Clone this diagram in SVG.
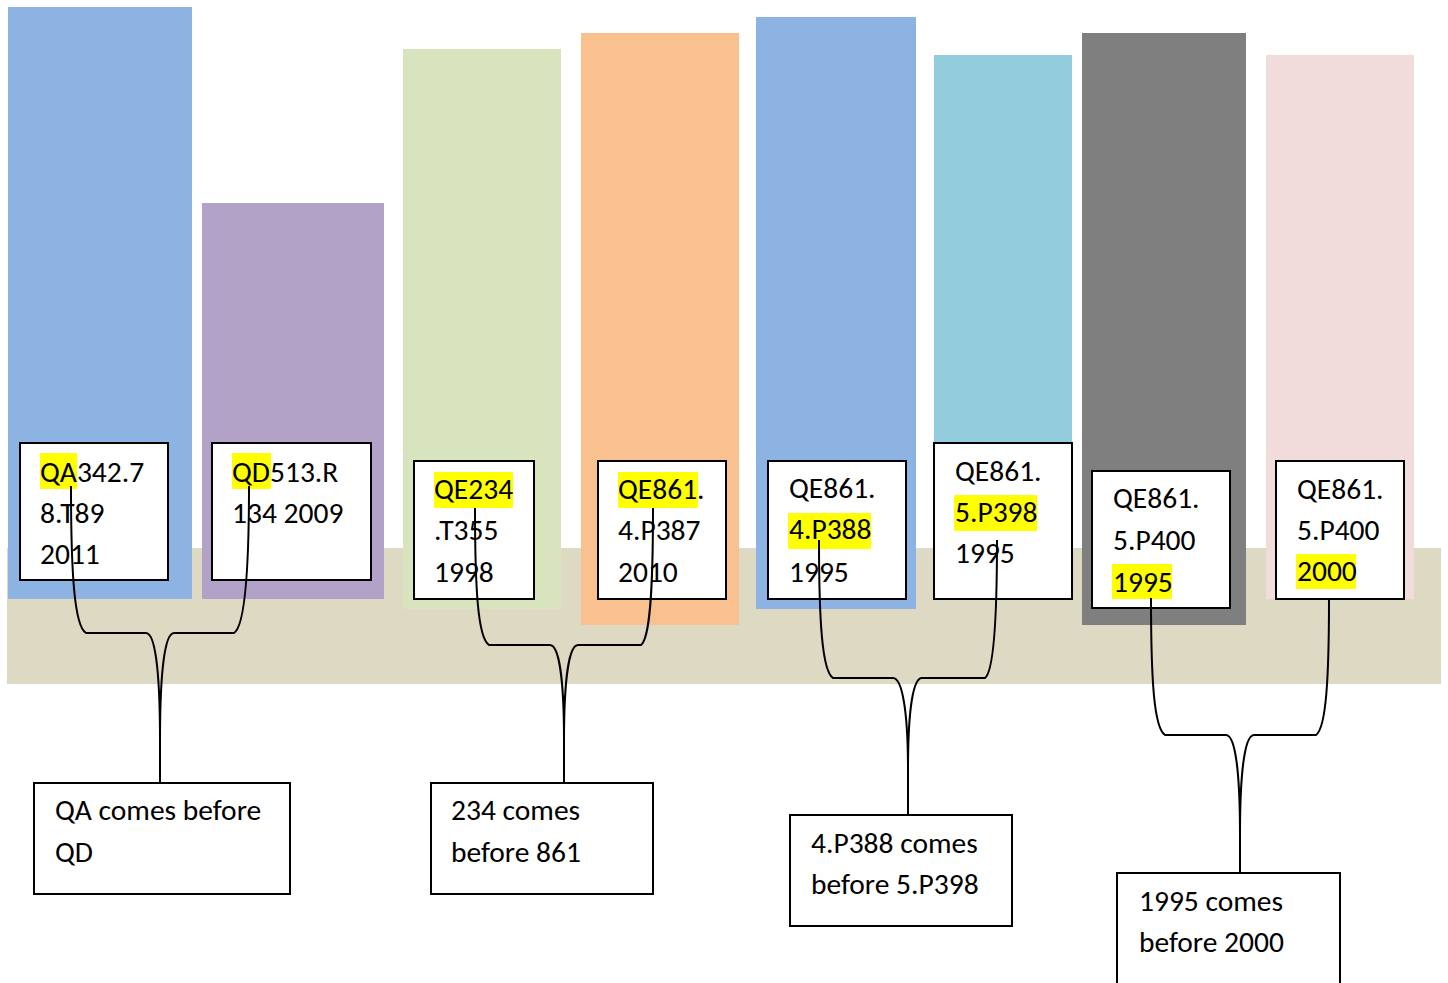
<svg xmlns="http://www.w3.org/2000/svg" width="1448" height="983" viewBox="0 0 1448 983">
<style>
.box{fill:#fff;stroke:#000;stroke-width:2}
.t{font-family:Carlito,Lato,"Open Sans",sans-serif;font-size:29.5px;fill:#000}
.hl{fill:#ffff00}
.c{fill:none;stroke:#000;stroke-width:2}
</style>
<rect width="1448" height="983" fill="#fff"/>
<g id="band"><rect x="7" y="548" width="1434" height="136" fill="#DDD9C3"/></g>
<g id="bars">
<rect x="8" y="7" width="184" height="592" fill="#8DB3E2"/>
<rect x="202" y="203" width="182" height="396" fill="#B2A2C7"/>
<rect x="403" y="49" width="158" height="560" fill="#D7E4BD"/>
<rect x="581" y="33" width="158" height="592" fill="#F9C090"/>
<rect x="756" y="17" width="160" height="592" fill="#8DB3E2"/>
<rect x="934" y="55" width="138" height="544" fill="#93CDDD"/>
<rect x="1082" y="33" width="164" height="592" fill="#7F7F7F"/>
<rect x="1266" y="55" width="148" height="544" fill="#F2DCDB"/>
</g>
<g id="label1">
<rect class="box" x="20" y="443" width="148" height="137"/>
<rect class="hl" x="40" y="453" width="37" height="36"/>
<text class="t" x="40" y="482">QA342.7</text>
<text class="t" x="40" y="523">8.T89</text>
<text class="t" x="40" y="564">2011</text>
</g>
<g id="label2">
<rect class="box" x="212" y="443" width="159" height="137"/>
<rect class="hl" x="232" y="453" width="39" height="36"/>
<text class="t" x="232" y="482">QD513.R</text>
<text class="t" x="232" y="523">134 2009</text>
</g>
<g id="label3">
<rect class="box" x="414" y="461" width="120" height="138"/>
<rect class="hl" x="434" y="472" width="79" height="36"/>
<text class="t" x="434" y="499">QE234</text>
<text class="t" x="434" y="540">.T355</text>
<text class="t" x="434" y="582">1998</text>
</g>
<g id="label4">
<rect class="box" x="598" y="461" width="128" height="138"/>
<rect class="hl" x="618" y="472" width="80" height="36"/>
<text class="t" x="618" y="499">QE861.</text>
<text class="t" x="618" y="540">4.P387</text>
<text class="t" x="618" y="582">2010</text>
</g>
<g id="label5">
<rect class="box" x="768" y="461" width="138" height="138"/>
<rect class="hl" x="788" y="513" width="83" height="36"/>
<text class="t" x="789" y="498">QE861.</text>
<text class="t" x="789" y="539">4.P388</text>
<text class="t" x="789" y="582">1995</text>
</g>
<g id="label6">
<rect class="box" x="934" y="443" width="138" height="156"/>
<rect class="hl" x="954" y="495" width="83" height="36"/>
<text class="t" x="955" y="481">QE861.</text>
<text class="t" x="955" y="522">5.P398</text>
<text class="t" x="955" y="563">1995</text>
</g>
<g id="label7">
<rect class="box" x="1092" y="471" width="138" height="137"/>
<rect class="hl" x="1112" y="564" width="60" height="35"/>
<text class="t" x="1113" y="508">QE861.</text>
<text class="t" x="1113" y="550">5.P400</text>
<text class="t" x="1113" y="592">1995</text>
</g>
<g id="label8">
<rect class="box" x="1276" y="461" width="128" height="138"/>
<rect class="hl" x="1296" y="554" width="60" height="35"/>
<text class="t" x="1297" y="499">QE861.</text>
<text class="t" x="1297" y="540">5.P400</text>
<text class="t" x="1297" y="581">2000</text>
</g>
<g id="note1">
<rect class="box" x="34" y="783" width="256" height="111"/>
<text class="t" x="55" y="820">QA comes before</text>
<text class="t" x="55" y="862">QD</text>
</g>
<g id="note2">
<rect class="box" x="431" y="783" width="222" height="111"/>
<text class="t" x="451" y="820">234 comes</text>
<text class="t" x="451" y="862">before 861</text>
</g>
<g id="note3">
<rect class="box" x="790" y="815" width="222" height="111"/>
<text class="t" x="811" y="853">4.P388 comes</text>
<text class="t" x="811" y="894">before 5.P398</text>
</g>
<g id="note4">
<rect class="box" x="1117" y="873" width="223" height="120"/>
<text class="t" x="1139" y="911">1995 comes</text>
<text class="t" x="1139" y="952">before 2000</text>
</g>
<g id="connectors">
<path class="c" d="M71,486 C71,570 74,626 86,633 L146,633 C155,633 160,670 160,740 L160,783"/>
<path class="c" d="M249,486 C249,570 245,626 234,633 L174,633 C165,633 160,670 160,740"/>
<path class="c" d="M475,508 C475,590 478,638 489,645 L550,645 C559,645 564,680 564,740 L564,783"/>
<path class="c" d="M653,508 C653,590 650,638 641,645 L578,645 C569,645 564,680 564,740"/>
<path class="c" d="M819,540 C819,620 822,671 833,678 L893,678 C902,678 908,710 908,770 L908,815"/>
<path class="c" d="M997,540 C997,620 994,671 985,678 L922,678 C913,678 908,710 908,770"/>
<path class="c" d="M1151,598 C1151,680 1154,728 1165,735 L1226,735 C1235,735 1240,770 1240,835 L1240,873"/>
<path class="c" d="M1329,599 C1329,680 1326,728 1316,735 L1254,735 C1245,735 1240,770 1240,835"/>
</g>
</svg>
